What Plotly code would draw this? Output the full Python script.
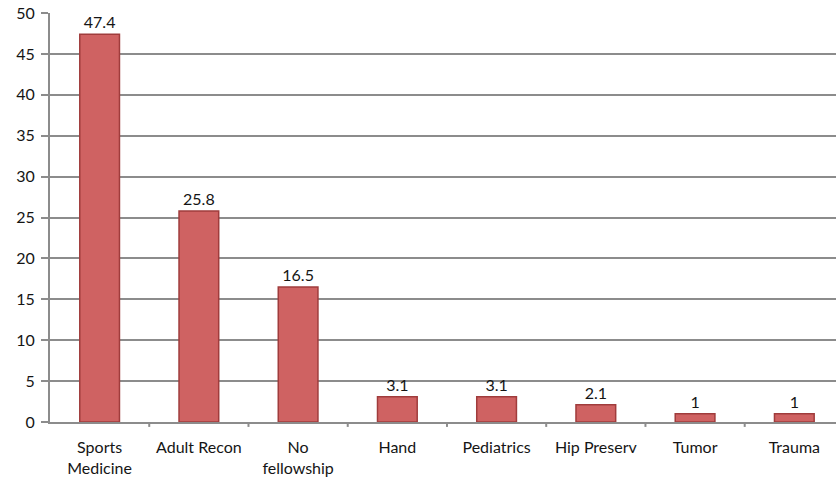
import plotly.graph_objects as go

categories = ["Sports<br>Medicine", "Adult Recon", "No<br>fellowship", "Hand",
              "Pediatrics", "Hip Preserv", "Tumor", "Trauma"]
values = [47.4, 25.8, 16.5, 3.1, 3.1, 2.1, 1, 1]
value_labels = ["47.4", "25.8", "16.5", "3.1", "3.1", "2.1", "1", "1"]
y_ticks = [0, 5, 10, 15, 20, 25, 30, 35, 40, 45, 50]

font_family = "Lato, 'Open Sans', sans-serif"
text_color = "#151515"

fig = go.Figure(
    go.Bar(
        x=list(range(len(categories))),
        y=values,
        width=0.4,
        text=value_labels,
        textposition="outside",
        textfont=dict(size=16, color=text_color, family=font_family),
        marker=dict(color="#CF6262", line=dict(color="#A03C3C", width=1.5)),
        cliponaxis=False,
    )
)

fig.update_layout(
    width=836,
    height=486,
    margin=dict(l=50, r=0, t=13, b=64),
    paper_bgcolor="white",
    plot_bgcolor="white",
    showlegend=False,
    font=dict(family=font_family, size=16, color=text_color),
)

fig.update_xaxes(
    tickmode="array",
    tickvals=list(range(len(categories))),
    ticktext=categories,
    range=[-0.5, 7.42],
    showgrid=False,
    showline=True,
    linecolor="#8C8C8C",
    linewidth=2,
    ticks="",
    ticklabelstandoff=10,
    tickfont=dict(size=16, color=text_color),
    zeroline=False,
)

# category separator tick marks along the baseline
for i in range(len(categories)):
    fig.add_shape(
        type="line", xref="x", yref="paper",
        x0=i + 0.5, x1=i + 0.5, y0=0, y1=-0.012,
        line=dict(color="#8C8C8C", width=2),
    )

fig.update_yaxes(
    range=[0, 50],
    tickvals=y_ticks,
    showgrid=True,
    gridcolor="#8C8C8C",
    gridwidth=2,
    showline=True,
    linecolor="#8C8C8C",
    linewidth=2,
    ticks="outside",
    ticklen=7,
    tickwidth=2,
    tickcolor="#8C8C8C",
    ticklabelstandoff=3,
    tickfont=dict(size=16, color=text_color),
    zeroline=False,
)

fig.write_html("out.html")
